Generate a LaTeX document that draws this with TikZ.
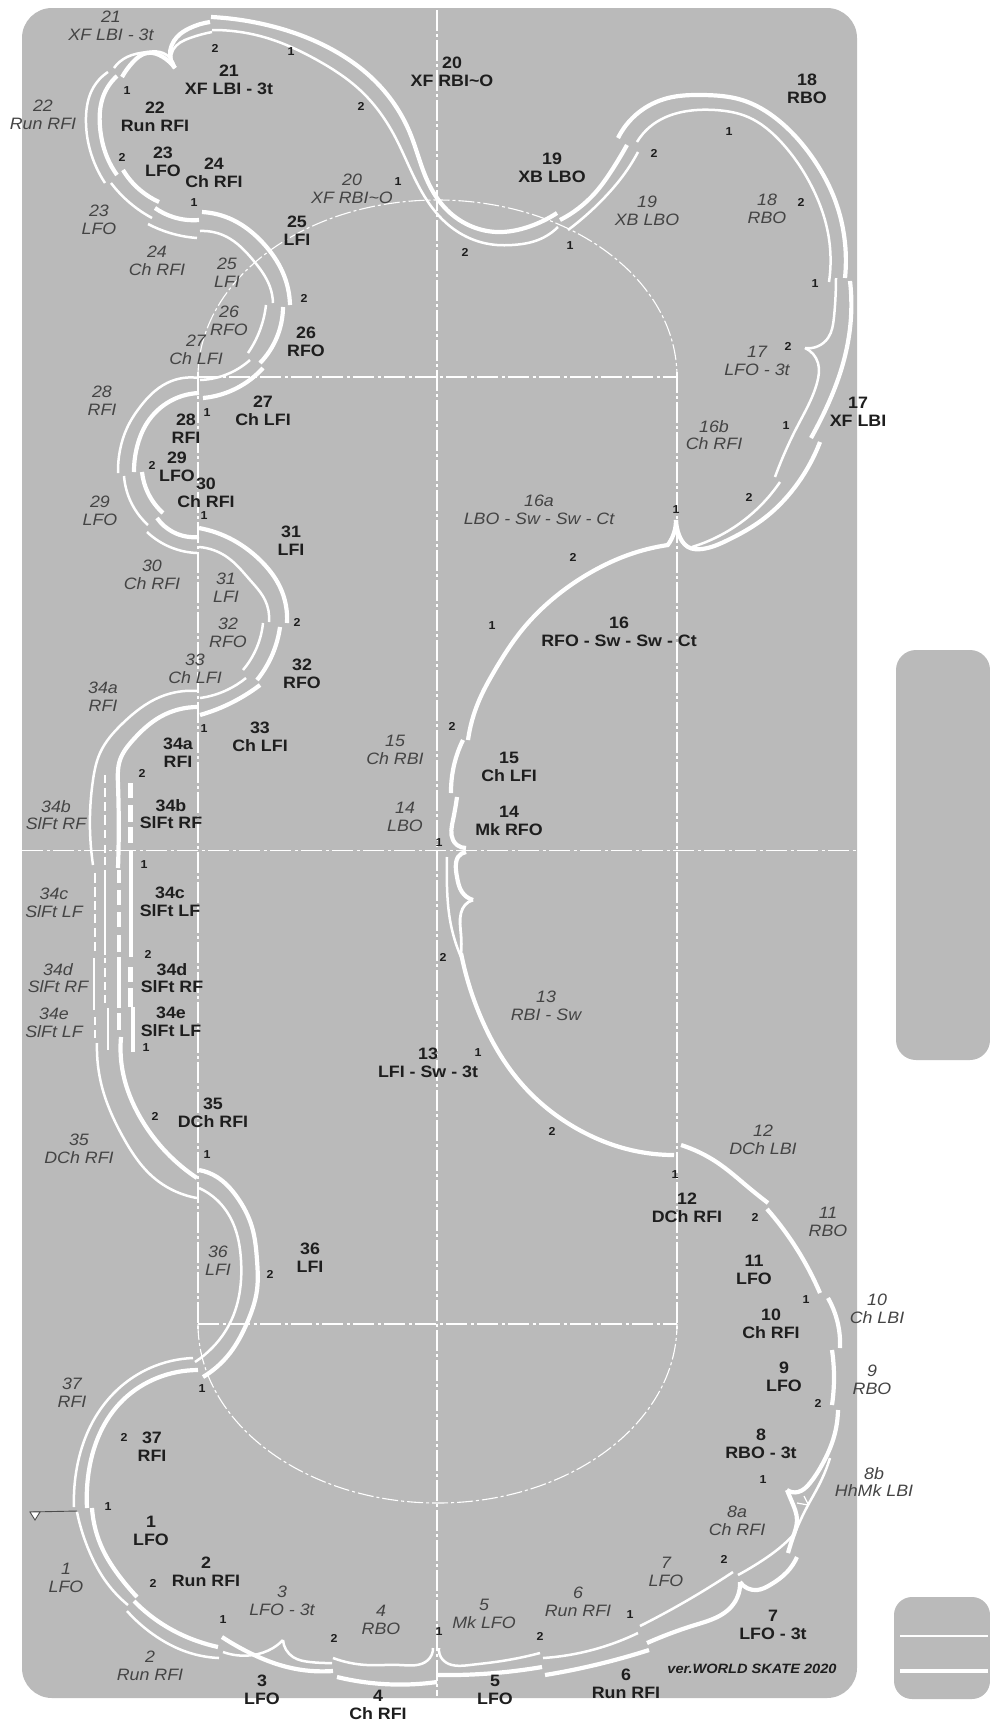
\documentclass[tikz,border=0pt]{standalone}
\usepackage{fontspec}
\usetikzlibrary{hobby}
\setmainfont[FakeStretch=1.08]{Liberation Sans}
\definecolor{panel}{HTML}{BABABA}
\definecolor{boldink}{HTML}{1E1E1E}
\definecolor{italink}{HTML}{444444}
\tikzset{
  panelbox/.style={fill=panel,draw=none},
  thk/.style={white,line width=4.2pt},
  thn/.style={white,line width=2.5pt},
  guidev/.style={white,line width=1.3pt,dash pattern=on 21pt off 3pt on 3pt off 3pt},
  guideh/.style={white,line width=1.6pt,dash pattern=on 21pt off 3.5pt on 3pt off 3.5pt},
  guidea/.style={white,line width=1.1pt,dash pattern=on 16pt off 3pt on 3pt off 3pt},
  blab/.style={inner sep=0pt,align=center,text=boldink,font=\bfseries\fontsize{16.5}{17.6}\selectfont},
  ilab/.style={inner sep=0pt,align=center,text=italink,font=\itshape\fontsize{16.5}{17.6}\selectfont},
  nlab/.style={inner sep=0pt,text=boldink,font=\bfseries\fontsize{11.5}{12}\selectfont},
  vlab/.style={inner sep=0pt,text=boldink,font=\bfseries\itshape\fontsize{13.5}{14}\selectfont},
}
\newcommand\TrK[1]{\draw[thk] plot[hobby] coordinates {#1};}
\newcommand\TrN[1]{\draw[thn] plot[hobby] coordinates {#1};}
\newcommand\Bl[4]{\node[blab] (b#1) at (#2,#3) {#4};}
\newcommand\Il[4]{\node[ilab] (i#1) at (#2,#3) {#4};}
\newcounter{nmc}
\newcommand\Nm[3]{\stepcounter{nmc}\node[nlab] (n\arabic{nmc}) at (#1,#2) {#3};}
\begin{document}
\begin{tikzpicture}[x=1pt,y=-1pt]
\useasboundingbox (0,0) rectangle (990,1722);
% panels
\fill[panelbox,rounded corners=30pt] (22,8) rectangle (857,1698);
\fill[panelbox,rounded corners=20pt] (896,650) rectangle (990,1060);
\fill[panelbox,rounded corners=18pt] (894,1597) rectangle (990,1699);
\draw[thn] (900,1636) -- (988,1636);
\draw[white,line width=3.6pt] (900,1671) -- (988,1671);
% guide lines
\draw[guidev] (437,10) -- (437,1696);
\draw[guidev] (198,372) -- (198,1330);
\draw[guidev] (677,372) -- (677,1330);
\draw[guideh] (22,850.5) -- (857,850.5);
\draw[guideh] (198,377) -- (677,377);
\draw[guideh] (198,1324) -- (677,1324);
\draw[guidea] (198,377) arc[start angle=180,end angle=0,x radius=239.5,y radius=-177];
\draw[guidea] (198,1324) arc[start angle=180,end angle=0,x radius=239.5,y radius=179];
% start mark
\draw[black!70,line width=.9pt] (30,1512) -- (77,1511);
\draw[black!70,line width=.9pt,fill=white] (30,1512) -- (40,1512) -- (35,1520) -- cycle;
% 1,2,3
\TrK{(92,1508)(103,1550)(120,1577)(137,1597)}
\TrN{(77,1512)(90,1553)(107,1583)(128,1605)}
\TrK{(134,1601)(167,1627)(197,1641)(218,1647)}
\TrN{(127,1611)(157,1637)(187,1652)(219,1658)}
\TrK{(222,1637)(250,1653)(287,1667)(333,1671)}
\TrN{(223,1652)(253,1655)(273,1648)(283,1640)}
\TrN{(283,1640)(293,1657)(310,1662)(332,1663)}
% 4,5,6
\TrN{(333,1658)(367,1665)(400,1665)(428,1660)(433,1648)}
\TrK{(337,1677)(383,1684)(437,1682)}
\TrN{(439,1648)(443,1660)(470,1665)(495,1662)(540,1653)}
\TrK{(438,1675)(495,1673)(542,1667)}
\TrN{(543,1658)(592,1650)(638,1633)}
\TrK{(545,1675)(595,1665)(649,1650)}
% 7
\TrN{(640,1626)(688,1600)(733,1572)}
\TrK{(647,1643)(695,1625)(728,1610)(737,1598)(740,1582)}
\TrK{(740,1582)(757,1590)(770,1585)(787,1572)(797,1557)}
% 8
\TrK{(838,1410)(833,1440)(823,1463)(810,1483)(798,1492)(787,1490)}
\TrK{(787,1490)(792,1502)(797,1520)(793,1537)(788,1553)}
\TrN{(830,1458)(820,1483)(807,1507)(795,1533)}
\TrN{(738,1575)(763,1560)(783,1545)(795,1533)}
\draw[white,line width=1.2pt] (804,1496) -- (808,1504);
\draw[white,line width=1.2pt] (797,1503) -- (808,1505);
% 9,10,11,12
\TrK{(832,1350)(834,1377)(832,1405)}
\TrK{(828,1298)(837,1320)(840,1348)}
\TrK{(767,1209)(793,1243)(820,1293)}
\TrK{(681,1145)(718,1163)(748,1187)(768,1203)}
% 13
\TrK{(461,953)(482,1020)(520,1082)(585,1133)(623,1148)(674,1155)}
\TrN{(447,857)(447,887)(450,920)(461,957)}
\TrK{(466,852)(458,857)(456,863)(457,877)(462,892)(473,900)}
\draw[white,line width=2.8pt] plot[hobby] coordinates {(473,900)(465,905)(461,913)(461,935)(461,953)};
% 14,15,16
\TrK{(457,797)(453,820)(453,840)(457,845)(466,848)}
\TrK{(451,793)(453,770)(463,740)}
\TrK{(468,740)(478,703)(495,670)(522,630)(555,597)(595,570)(628,555)(668,545)}
\TrK{(667,546)(672,538)(676,520)}
\TrK{(676,520)(679,535)(688,547)(702,549)(728,540)(762,520)(795,487)(820,442)}
\TrN{(692,547)(715,538)(748,517)(780,482)}
% 17
\TrK{(850,281)(851,317)(842,367)(822,417)(811,438)}
\TrN{(836,278)(834,317)(828,338)(805,348)}
\TrN{(805,348)(818,363)(817,383)(797,427)(775,477)}
% 18,19,20
\TrK{(618,138)(638,113)(668,98)(702,95)(742,100)(778,120)(812,157)(835,200)(845,243)(845,278)}
\TrN{(637,142)(655,123)(682,112)(715,110)(748,117)(782,143)(812,187)(828,233)(829,282)}
\TrK{(560,220)(595,193)(612,170)(627,145)}
\TrN{(568,230)(605,197)(625,173)(638,152)}
\TrK{(211,17)(267,25)(333,50)(377,83)(410,133)(427,180)(447,210)(473,227)(497,232)(528,227)(557,213)}
\TrN{(212,30)(267,38)(317,60)(360,90)(393,133)(417,183)(440,217)(467,237)(497,245)(512,245)(538,240)(558,227)}
% 21,22,23,24
\TrK{(122,77)(133,62)(147,53)(163,57)(175,68)}
\TrK{(175,68)(170,55)(177,37)(190,28)(210,22)}
\TrN{(114,68)(127,57)(147,52)(160,52)(175,68)}
\TrN{(175,68)(173,50)(190,38)(212,32)}
\TrK{(117,76)(103,97)(100,127)(107,157)(117,175)}
\TrN{(108,72)(92,90)(86,117)(90,150)(105,183)}
\TrK{(123,170)(140,190)(159,202)}
\TrN{(111,183)(130,203)(152,218)}
\TrK{(155,208)(173,217)(199,220)}
\TrN{(148,224)(170,233)(197,238)}
% 25,26,27
\TrK{(202,212)(233,220)(263,243)(283,273)(290,305)}
\TrN{(200,231)(227,237)(253,260)(270,287)(273,303)}
\TrK{(283,307)(277,337)(260,363)}
\TrN{(266,305)(260,330)(248,353)}
\TrK{(263,368)(237,388)(203,398)}
\TrN{(250,360)(230,373)(200,380)}
% 28,29,30
\TrK{(199,393)(167,403)(147,423)(137,447)(134,472)}
\TrN{(199,378)(167,383)(140,407)(127,428)(120,450)(118,473)}
\TrK{(142,472)(148,493)(163,513)}
\TrN{(124,476)(130,500)(148,525)}
\TrK{(157,518)(173,532)(199,537)}
\TrN{(147,532)(170,547)(197,553)}
% 31,32,33
\TrK{(199,528)(233,540)(260,560)(280,587)(287,623)}
\TrN{(199,547)(227,557)(250,580)(265,600)(269,622)}
\TrK{(280,627)(273,653)(257,680)}
\TrN{(263,623)(257,647)(243,670)}
\TrK{(260,685)(233,702)(200,715)}
\TrN{(246,678)(227,690)(200,698)}
% 34
\TrK{(198,707)(160,717)(133,740)(120,760)(118,785)(118,868)}
\TrN{(198,691)(160,697)(123,723)(100,753)(93,780)(93,865)}
\foreach \a/\b in {873/883,887/897,901/910,914/923,928/937,942/951,1017/1025,1030/1038}{\draw[thn] (95,\a) -- (95,\b);}
\draw[thn] (94,958) -- (94,1010);
\foreach \a/\b in {775/783,788/797,802/811,815/825,830/838,845/853,857/865,958/963,968/977,982/990,995/1003}{\draw[white,line width=2.8pt] (105,\a) -- (105,\b);}
\draw[thn] (105,870) -- (105,955);
\draw[thn] (108,1008) -- (108,1050);
\foreach \a/\b in {870/883,890/905,912/927,935/952,1013/1030}{\draw[thk,line width=4.4pt] (119,\a) -- (119,\b);}
\draw[thk] (119,957) -- (119,1008);
\foreach \a/\b in {783/798,805/822,827/843,967/982,988/1007}{\draw[thk,line width=5pt] (130,\a) -- (130,\b);}
\draw[thk] (131,850) -- (131,957);
\draw[thk] (133,1007) -- (133,1052);
% 35,36,37
\TrK{(121,1037)(123,1073)(140,1117)(167,1153)(197,1178)}
\TrN{(97,1043)(102,1087)(123,1137)(153,1177)(197,1198)}
\TrK{(199,1170)(217,1177)(237,1197)(252,1227)(257,1260)(257,1290)(247,1323)(230,1353)(203,1377)}
\TrN{(199,1188)(217,1200)(233,1223)(241,1260)(240,1290)(230,1323)(213,1347)(195,1362)}
\TrK{(87,1508)(88,1477)(100,1433)(123,1400)(157,1378)(198,1370)}
\TrN{(74,1507)(77,1467)(90,1427)(117,1390)(150,1368)(193,1358)}
% bold labels
\Bl{1}{151}{1531}{1\\LFO}
\Bl{2}{206}{1572}{2\\Run RFI}
\Bl{3}{262}{1690}{3\\LFO}
\Bl{4}{378}{1705}{4\\Ch RFI}
\Bl{5}{495}{1690}{5\\LFO}
\Bl{6}{626}{1684}{6\\Run RFI}
\Bl{7}{773}{1625}{7\\LFO - 3t}
\Bl{8}{761}{1444}{8\\RBO - 3t}
\Bl{9}{784}{1377}{9\\LFO}
\Bl{10}{771}{1324}{10\\Ch RFI}
\Bl{11}{754}{1270}{11\\LFO}
\Bl{12}{687}{1208}{12\\DCh RFI}
\Bl{13}{428}{1063}{13\\LFI - Sw - 3t}
\Bl{14}{509}{821}{14\\Mk RFO}
\Bl{15}{509}{767}{15\\Ch LFI}
\Bl{16}{619}{632}{16\\RFO - Sw - Sw - Ct}
\Bl{17}{858}{412}{17\\XF LBI}
\Bl{18}{807}{89}{18\\RBO}
\Bl{19}{552}{168}{19\\XB LBO}
\Bl{20}{452}{72}{20\\XF RBI\char`\~O}
\Bl{21}{229}{80}{21\\XF LBI - 3t}
\Bl{22}{155}{117}{22\\Run RFI}
\Bl{23}{163}{162}{23\\LFO}
\Bl{24}{214}{173}{24\\Ch RFI}
\Bl{25}{297}{231}{25\\LFI}
\Bl{26}{306}{342}{26\\RFO}
\Bl{27}{263}{411}{27\\Ch LFI}
\Bl{28}{186}{429}{28\\RFI}
\Bl{29}{177}{467}{29\\LFO}
\Bl{30}{206}{493}{30\\Ch RFI}
\Bl{31}{291}{541}{31\\LFI}
\Bl{32}{302}{674}{32\\RFO}
\Bl{33}{260}{737}{33\\Ch LFI}
\Bl{34a}{178}{753}{34a\\RFI}
\Bl{34b}{171}{814}{34b\\SlFt RF}
\Bl{34c}{170}{902}{34c\\SlFt LF}
\Bl{34d}{172}{978}{34d\\SlFt RF}
\Bl{34e}{171}{1022}{34e\\SlFt LF}
\Bl{35}{213}{1113}{35\\DCh RFI}
\Bl{36}{310}{1258}{36\\LFI}
\Bl{37}{152}{1447}{37\\RFI}
% italic labels
\Il{1}{66}{1578}{1\\LFO}
\Il{2}{150}{1666}{2\\Run RFI}
\Il{3}{282}{1601}{3\\LFO - 3t}
\Il{4}{381}{1620}{4\\RBO}
\Il{5}{484}{1614}{5\\Mk LFO}
\Il{6}{578}{1602}{6\\Run RFI}
\Il{7}{666}{1572}{7\\LFO}
\Il{8a}{737}{1521}{8a\\Ch RFI}
\Il{8b}{874}{1482}{8b\\HhMk LBI}
\Il{9}{872}{1380}{9\\RBO}
\Il{10}{877}{1309}{10\\Ch LBI}
\Il{11}{828}{1222}{11\\RBO}
\Il{12}{763}{1140}{12\\DCh LBI}
\Il{13}{546}{1006}{13\\RBI - Sw}
\Il{14}{405}{817}{14\\LBO}
\Il{15}{395}{750}{15\\Ch RBI}
\Il{16a}{539}{510}{16a\\LBO - Sw - Sw - Ct}
\Il{16b}{714}{435}{16b\\Ch RFI}
\Il{17}{757}{361}{17\\LFO - 3t}
\Il{18}{767}{209}{18\\RBO}
\Il{19}{647}{211}{19\\XB LBO}
\Il{20}{352}{189}{20\\XF RBI\char`\~O}
\Il{21}{111}{26}{21\\XF LBI - 3t}
\Il{22}{43}{115}{22\\Run RFI}
\Il{23}{99}{220}{23\\LFO}
\Il{24}{157}{261}{24\\Ch RFI}
\Il{25}{227}{273}{25\\LFI}
\Il{26}{229}{321}{26\\RFO}
\Il{27}{196}{350}{27\\Ch LFI}
\Il{28}{102}{401}{28\\RFI}
\Il{29}{100}{511}{29\\LFO}
\Il{30}{152}{575}{30\\Ch RFI}
\Il{31}{226}{588}{31\\LFI}
\Il{32}{228}{633}{32\\RFO}
\Il{33}{195}{669}{33\\Ch LFI}
\Il{34a}{103}{697}{34a\\RFI}
\Il{34b}{56}{815}{34b\\SlFt RF}
\Il{34c}{54}{903}{34c\\SlFt LF}
\Il{34d}{58}{978}{34d\\SlFt RF}
\Il{34e}{54}{1023}{34e\\SlFt LF}
\Il{35}{79}{1149}{35\\DCh RFI}
\Il{36}{218}{1261}{36\\LFI}
\Il{37}{72}{1393}{37\\RFI}
\node[vlab] (ver) at (752,1669) {ver.WORLD SKATE 2020};
% step numbers
\Nm{215}{48}{2}\Nm{291}{52}{1}\Nm{361}{106}{2}\Nm{127}{91}{1}\Nm{122}{157}{2}
\Nm{194}{203}{1}\Nm{398}{182}{1}\Nm{465}{252}{2}\Nm{304}{298}{2}\Nm{207}{413}{1}
\Nm{152}{465}{2}\Nm{204}{516}{1}\Nm{297}{622}{2}\Nm{204}{729}{1}\Nm{142}{773}{2}
\Nm{452}{726}{2}\Nm{439}{843}{1}\Nm{654}{153}{2}\Nm{729}{132}{1}\Nm{801}{202}{2}
\Nm{570}{246}{1}\Nm{815}{284}{1}\Nm{788}{346}{2}\Nm{786}{426}{1}\Nm{676}{510}{1}
\Nm{749}{497}{2}\Nm{573}{557}{2}\Nm{492}{626}{1}\Nm{144}{865}{1}\Nm{148}{954}{2}
\Nm{146}{1048}{1}\Nm{155}{1116}{2}\Nm{207}{1155}{1}\Nm{443}{957}{2}\Nm{478}{1053}{1}
\Nm{270}{1274}{2}\Nm{552}{1131}{2}\Nm{675}{1175}{1}\Nm{755}{1217}{2}\Nm{202}{1389}{1}
\Nm{124}{1437}{2}\Nm{108}{1507}{1}\Nm{153}{1583}{2}\Nm{223}{1620}{1}\Nm{334}{1638}{2}
\Nm{439}{1632}{1}\Nm{806}{1300}{1}\Nm{818}{1403}{2}\Nm{763}{1480}{1}\Nm{724}{1559}{2}
\Nm{630}{1615}{1}\Nm{540}{1636}{2}
\end{tikzpicture}
\end{document}
